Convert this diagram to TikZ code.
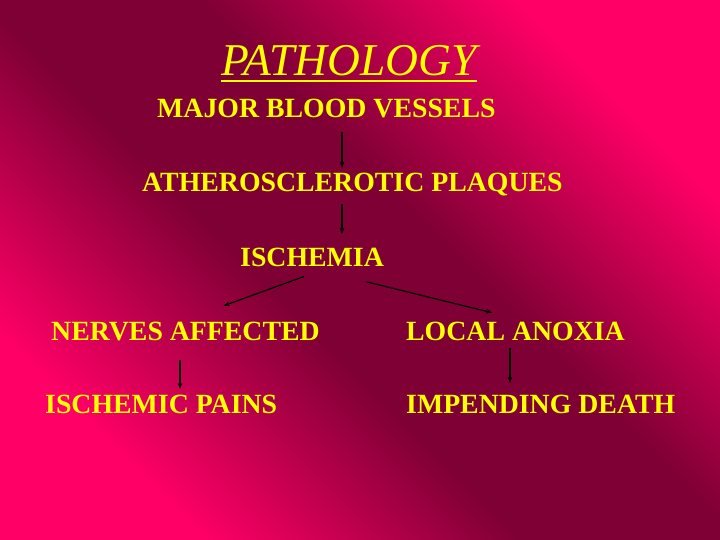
\documentclass[tikz,border=0pt]{standalone}
\usepackage{fontspec}
\setmainfont{Liberation Serif}
\usetikzlibrary{arrows.meta,calc}
\definecolor{pk}{RGB}{255,0,102}
\definecolor{dk}{RGB}{126,0,52}
\definecolor{txt}{RGB}{255,255,0}
\pgfdeclarehorizontalshading{bgshade}{100bp}{color(0bp)=(pk); color(26bp)=(pk); color(44bp)=(dk); color(56bp)=(dk); color(74bp)=(pk); color(100bp)=(pk)}
\begin{document}
\begin{tikzpicture}[x=1pt,y=-1pt,
  lbl/.style={anchor=base west,inner sep=0pt,text=txt,font=\fontsize{27.8}{30}\selectfont\bfseries},
  arr/.style={draw=black,line width=1.2pt,-{Stealth[length=6pt,width=4.5pt]}}]
\shade[shading=bgshade,shading angle=45] (0,0) rectangle (720,540);
\useasboundingbox (0,0) rectangle (720,540);
\node[anchor=base west,inner sep=0pt,text=txt,font=\fontsize{45.5}{48}\selectfont\itshape] (title) at (221,76) {PATHOLOGY};
\draw[txt,line width=2.6pt] ($(title.base west)+(0,5)$) -- ($(title.base east)+(0,5)$);
\node[lbl] (mbv) at (157,118) {MAJOR BLOOD VESSELS};
\node[lbl] (ath) at (142,192) {ATHEROSCLEROTIC PLAQUES};
\node[lbl] (isch) at (240,266) {ISCHEMIA};
\node[lbl] (nerv) at (51,340) {NERVES AFFECTED};
\node[lbl] (anox) at (406,340) {LOCAL ANOXIA};
\node[lbl] (pain) at (45,413) {ISCHEMIC PAINS};
\node[lbl] (death) at (406,413) {IMPENDING DEATH};
\draw[arr] ($(mbv.base west)+(185,14)$) -- ($(ath.base west)+(200,-24)$);
\draw[arr] ($(ath.base west)+(200,12)$) -- ($(isch.base west)+(102,-32)$);
\draw[arr] ($(isch.base west)+(64,10.5)$) -- ($(nerv.base west)+(172.6,-34.2)$);
\draw[arr] ($(isch.base west)+(126,15.7)$) -- ($(anox.base west)+(86,-27.3)$);
\draw[arr] ($(nerv.base west)+(129,20)$) -- ($(pain.base west)+(135,-24)$);
\draw[arr] ($(anox.base west)+(104,8)$) -- ($(death.base west)+(104,-30)$);
\end{tikzpicture}
\end{document}
